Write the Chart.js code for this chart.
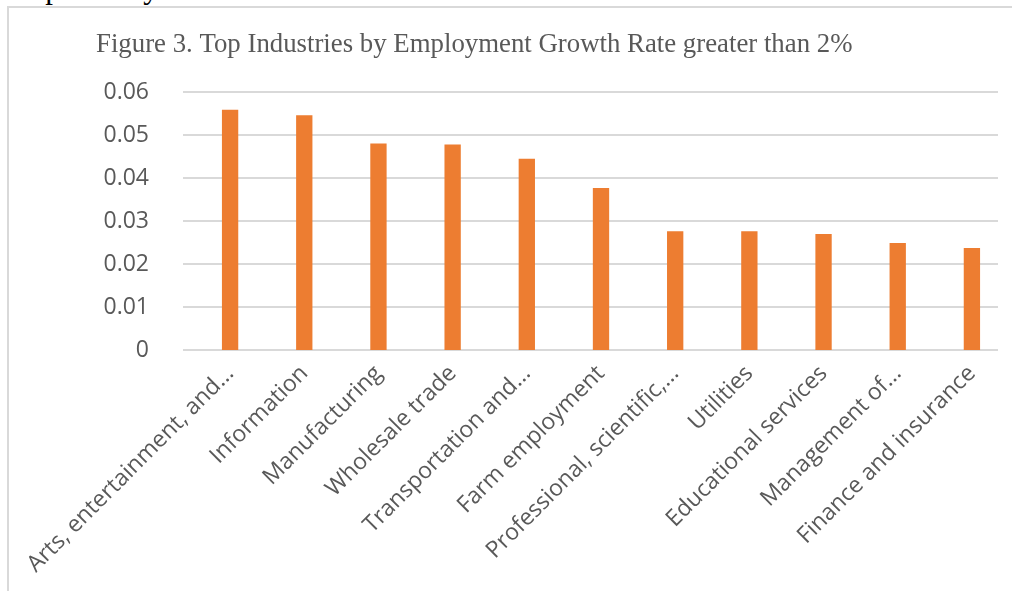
<!DOCTYPE html>
<html>
<head>
<meta charset="utf-8">
<script src="https://cdn.jsdelivr.net/npm/chart.js@4.4.1/dist/chart.umd.min.js"></script>
<style>
  html, body { margin: 0; padding: 0; background: #fff; overflow: hidden; }
  #wrap { position: relative; width: 1012px; height: 591px; }
  #chart { position: absolute; left: 0; top: 0; }
  /* frame of the embedded chart object */
  #frame { position: absolute; left: 7px; top: 6px; width: 1010px; height: 600px;
           border-left: 2px solid #d9d9d9; border-top: 2px solid #d9d9d9; }
  /* cut off line of the document above the chart */
  #doctext { position: absolute; left: 9px; top: -28px; font: 31px/31px "Liberation Serif", serif; color: #000; white-space: nowrap; }
</style>
</head>
<body>
<div id="wrap">
  <div id="doctext">respectively</div>
  <div id="frame"></div>
  <canvas id="chart" width="1012" height="591"></canvas>
</div>
<script>
'use strict';

// Chart title
const TITLE = 'Figure 3. Top Industries by Employment Growth Rate greater than 2%';

// Categories (as shown, truncated like the original)
const industries = [
  'Arts, entertainment, and...',
  'Information',
  'Manufacturing',
  'Wholesale trade',
  'Transportation and...',
  'Farm employment',
  'Professional, scientific,...',
  'Utilities',
  'Educational services',
  'Management of...',
  'Finance and insurance'
];

// Employment growth rate
const growthRates = [0.0559, 0.0546, 0.0480, 0.0478, 0.0445, 0.0377, 0.0276, 0.0276, 0.0270, 0.0249, 0.0237];

// Y tick labels
const yTickLabels = ['0', '0.01', '0.02', '0.03', '0.04', '0.05', '0.06'];

const GREY_TEXT = '#595959';
const GRID = '#d9d9d9';
const BAR = '#ed7d31';

// Title drawn at the same place as in the document
const titlePlugin = {
  id: 'docTitle',
  afterDraw(chart) {
    const { ctx } = chart;
    ctx.save();
    ctx.font = '26.8px "Liberation Serif", serif';
    ctx.fillStyle = GREY_TEXT;
    ctx.textBaseline = 'alphabetic';
    ctx.textAlign = 'left';
    ctx.fillText(TITLE, 96, 52);
    ctx.restore();
  }
};

// Horizontal gridlines: the plot box of the original sits a bit left of the bar slots
const gridPlugin = {
  id: 'valueGrid',
  beforeDatasetsDraw(chart) {
    const { ctx, chartArea, scales } = chart;
    const left = chartArea.left - 10;
    const right = chartArea.right - 11;
    ctx.save();
    ctx.strokeStyle = GRID;
    ctx.lineWidth = 2;
    scales.y.ticks.forEach(t => {
      const y = Math.round(scales.y.getPixelForValue(t.value));
      ctx.beginPath();
      ctx.moveTo(left, y);
      ctx.lineTo(right, y);
      ctx.stroke();
    });
    ctx.restore();
  }
};

const configuration = {
  type: 'bar',
  data: {
    labels: industries,
    datasets: [{
      data: growthRates,
      backgroundColor: BAR,
      borderWidth: 0,
      categoryPercentage: 1,
      barPercentage: 0.22
    }]
  },
  options: {
    responsive: false,
    animation: false,
    plugins: {
      legend: { display: false },
      title: { display: false },
      tooltip: { enabled: false }
    },
    layout: {
      padding: { top: 92, right: 3, bottom: 0, left: 0 }
    },
    scales: {
      x: {
        grid: { display: false },
        border: { display: false },
        ticks: {
          autoSkip: false,
          maxRotation: 45,
          minRotation: 45,
          padding: 2,
          color: GREY_TEXT,
          font: { family: 'Open Sans', size: 23 }
        },
        afterFit(scale) {
          scale.paddingLeft = 0;
          scale.paddingRight = 0;
          scale.height = 241;
        }
      },
      y: {
        min: 0,
        max: 0.06,
        grid: { display: false },
        border: { display: false },
        ticks: {
          stepSize: 0.01,
          padding: 36,
          color: GREY_TEXT,
          font: { family: 'Open Sans', size: 23 },
          callback: (value, index) => yTickLabels[index]
        },
        afterFit(scale) {
          scale.width = 193;
          scale.paddingTop = 0;
          scale.paddingBottom = 0;
        }
      }
    }
  },
  plugins: [gridPlugin, titlePlugin]
};

new Chart(document.getElementById('chart').getContext('2d'), configuration);
</script>
</body>
</html>
